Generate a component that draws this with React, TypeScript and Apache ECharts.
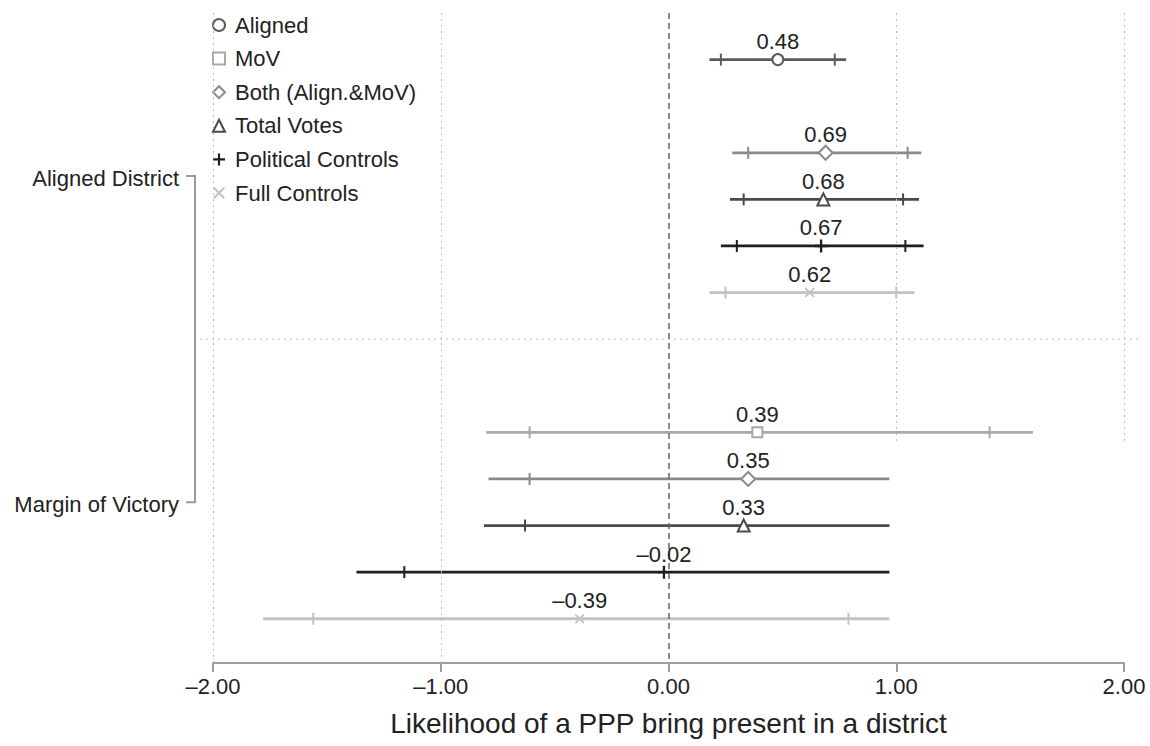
import React, { useEffect, useRef } from "react";
import * as echarts from "echarts";

// ---------- data ----------
const models = ["Aligned", "MoV", "Both (Align.&MoV)", "Total Votes", "Political Controls", "Full Controls"];
const groups = ["Aligned District", "Margin of Victory"];
const groupOffset = [0, 7];
const modelColors = ["#5a5a5a", "#a8a8a8", "#8a8a8a", "#4a4a4a", "#1e1e1e", "#c2c2c2"];

// Aligned District coefficient (per model)
const alignedEst = [0.48, null, 0.69, 0.68, 0.67, 0.62];
const alignedLo = [0.18, null, 0.28, 0.27, 0.23, 0.18];
const alignedHi = [0.78, null, 1.11, 1.10, 1.12, 1.08];
const alignedLo90 = [0.23, null, 0.35, 0.33, 0.30, 0.25];
const alignedHi90 = [0.73, null, 1.05, 1.03, 1.04, 1.00];

// Margin of Victory coefficient (per model)
const movEst = [null, 0.39, 0.35, 0.33, -0.02, -0.39];
const movLo = [null, -0.80, -0.79, -0.81, -1.37, -1.78];
const movHi = [null, 1.60, 0.97, 0.97, 0.97, 0.97];
const movLo90 = [null, -0.61, -0.61, -0.63, -1.16, -1.56];
const movHi90 = [null, 1.41, null, null, null, 0.79];

const xTicks = [-2, -1, 0, 1, 2];

const FONT = "'Liberation Sans', Arial, Helvetica, sans-serif";
const TXT = "#222222";

const plusPath = "path://M4.1,0H5.9V4.1H10V5.9H5.9V10H4.1V5.9H0V4.1H4.1Z";
const xPath = "path://M0,1.3L1.3,0L5,3.7L8.7,0L10,1.3L6.3,5L10,8.7L8.7,10L5,6.3L1.3,10L0,8.7L3.7,5Z";
const symbols = ["emptyCircle", "emptyRect", "emptyDiamond", "emptyTriangle", plusPath, xPath];
const symbolSizes = [11, 10, 14, 12, 13, 10];

const fmt = (v: number) => (v < 0 ? "\u2013" + Math.abs(v).toFixed(2) : v.toFixed(2));

type Row = { slot: number; est: number; lo: number; hi: number; lo90: number | null; hi90: number | null };

function rowsFor(m: number): Row[] {
  const out: Row[] = [];
  const sets = [
    [alignedEst, alignedLo, alignedHi, alignedLo90, alignedHi90],
    [movEst, movLo, movHi, movLo90, movHi90],
  ];
  sets.forEach((s, g) => {
    const est = s[0][m];
    if (est === null || est === undefined) return;
    out.push({
      slot: groupOffset[g] + m,
      est: est as number,
      lo: s[1][m] as number,
      hi: s[2][m] as number,
      lo90: s[3][m],
      hi90: s[4][m],
    });
  });
  return out;
}

export default function App() {
  const ref = useRef<HTMLDivElement>(null);
  useEffect(() => {
    document.body.style.margin = "0";
    if (!ref.current) return;
    const chart = echarts.init(ref.current, undefined, { renderer: "svg" });

    const series: any[] = [];
    models.forEach((name, m) => {
      const rows = rowsFor(m);
      const color = modelColors[m];
      series.push({
        type: "custom",
        name: name + " CI",
        z: 3,
        data: rows.map((r) => [r.lo, r.hi, r.slot]),
        encode: { x: [0, 1], y: 2 },
        renderItem: (params: any, api: any) => {
          const r = rows[params.dataIndex];
          const a = api.coord([r.lo, r.slot]);
          const b = api.coord([r.hi, r.slot]);
          const children: any[] = [
            { type: "line", shape: { x1: a[0], y1: a[1], x2: b[0], y2: b[1] }, style: { stroke: color, lineWidth: 2.8 } },
          ];
          [r.lo90, r.hi90].forEach((t) => {
            if (t === null) return;
            const p = api.coord([t, r.slot]);
            children.push({
              type: "line",
              shape: { x1: p[0], y1: p[1] - 6, x2: p[0], y2: p[1] + 6 },
              style: { stroke: color, lineWidth: 2 },
            });
          });
          return { type: "group", children };
        },
      });
    });
    models.forEach((name, m) => {
      const rows = rowsFor(m);
      const color = modelColors[m];
      const empty = m < 4;
      series.push({
        type: "scatter",
        name,
        z: 5,
        symbol: symbols[m],
        symbolSize: symbolSizes[m],
        itemStyle: empty
          ? { color: color, borderColor: color, borderWidth: 2, opacity: 1 }
          : { color: color, opacity: 1 },
        data: rows.map((r) => [r.est, r.slot]),
        label: {
          show: true,
          position: ["50%", "50%"],
          align: "center",
          verticalAlign: "middle",
          offset: [0, -18],
          formatter: (p: any) => fmt(p.value[0]),
          fontFamily: FONT,
          fontSize: 22,
          color: TXT,
          opacity: 1,
          textBorderWidth: 0,
        },
      });
    });

    // reference lines (grid, zero)
    const gridStyle = { color: "#bdbdbd", width: 1, type: [2, 4] as any };
    series.push({
      type: "scatter",
      name: "refs",
      data: [],
      silent: true,
      markLine: {
        silent: true,
        symbol: "none",
        label: { show: false },
        animation: false,
        data: [
          [{ coord: [-2, -1], lineStyle: gridStyle }, { coord: [-2, 12.95] }],
          [{ coord: [-1, -1], lineStyle: gridStyle }, { coord: [-1, 12.95] }],
          [{ coord: [1, -1], lineStyle: gridStyle }, { coord: [1, 8.2] }],
          [{ coord: [2, -1], lineStyle: gridStyle }, { coord: [2, 8.2] }],
          [{ coord: [0, -1], lineStyle: { color: "#666666", width: 1.5, type: [6, 4] as any } }, { coord: [0, 12.95] }],
        ],
      },
    });

    chart.setOption({
      animation: false,
      backgroundColor: "#ffffff",
      textStyle: { fontFamily: FONT },
      grid: { left: 213, right: 26, top: 13, bottom: 83 },
      legend: {
        orient: "vertical",
        left: 207,
        top: 9,
        itemWidth: 12,
        itemHeight: 12,
        itemGap: 11.6,
        textStyle: { fontFamily: FONT, fontSize: 22, lineHeight: 22, color: TXT, padding: [0, 0, 0, 5] },
        data: models.map((n) => ({ name: n })),
      },
      xAxis: {
        type: "value",
        min: -2,
        max: 2,
        interval: 1,
        splitLine: { show: false },
        axisLine: { show: true, onZero: false, lineStyle: { color: "#9e9e9e", width: 2 } },
        axisTick: { show: true, length: 9, lineStyle: { color: "#9e9e9e", width: 2 } },
        axisLabel: {
          margin: 12,
          fontFamily: FONT,
          fontSize: 22,
          color: TXT,
          formatter: (v: number) => (xTicks.includes(v) ? fmt(v) : ""),
        },
        name: "Likelihood of a PPP bring present in a district",
        nameLocation: "middle",
        nameGap: 46,
        nameTextStyle: { fontFamily: FONT, fontSize: 28, color: TXT },
      },
      yAxis: {
        type: "value",
        inverse: true,
        min: -1,
        max: 12.95,
        show: false,
      },
      series,
    });

    // group labels, bracket, separator positioned through the axis scales
    const yA = chart.convertToPixel({ yAxisIndex: 0 }, 2.5) as number;
    const yM = chart.convertToPixel({ yAxisIndex: 0 }, 9.5) as number;
    const ySep = chart.convertToPixel({ yAxisIndex: 0 }, 6) as number;
    const bx = 195;
    chart.setOption({
      graphic: [
        { type: "text", x: 179, y: yA + 2, style: { text: groups[0], font: `22px ${FONT}`, fill: TXT, align: "right", verticalAlign: "middle" } },
        { type: "text", x: 179, y: yM + 2, style: { text: groups[1], font: `22px ${FONT}`, fill: TXT, align: "right", verticalAlign: "middle" } },
        { type: "polyline", shape: { points: [[bx - 9, yA], [bx, yA], [bx, yM], [bx - 9, yM]] }, style: { stroke: "#9a9a9a", lineWidth: 2, fill: null } },
        { type: "line", shape: { x1: 200, y1: ySep, x2: 1140, y2: ySep }, style: { stroke: "#bdbdbd", lineWidth: 1, lineDash: [2, 4] } },
      ],
    });

    return () => chart.dispose();
  }, []);
  return <div ref={ref} style={{ width: 1150, height: 746 }} />;
}
